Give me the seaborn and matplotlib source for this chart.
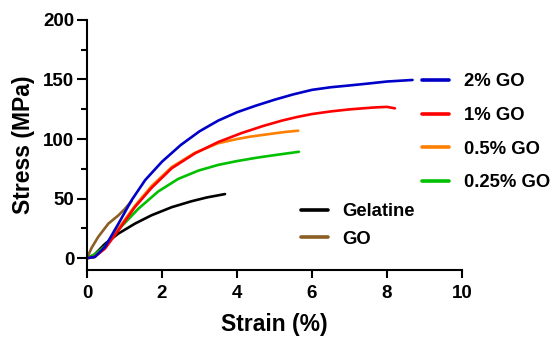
import numpy as np
import pandas as pd
import matplotlib
matplotlib.use("Agg")
import matplotlib.pyplot as plt
from matplotlib.lines import Line2D
from matplotlib.ticker import MultipleLocator
import seaborn as sns

# stress-strain curves (strain %, stress MPa)
strain_2go = [0, 0.21, 0.48, 0.84, 1.19, 1.55, 2.0, 2.5, 3.0, 3.5, 4.0, 4.5, 5.0, 5.5, 6.0, 6.5, 7.0, 7.5, 8.0, 8.68]
stress_2go = [0, 1, 9.5, 29, 48.7, 65.5, 81, 95, 106.5, 115.5, 122.5, 128, 133, 137.5, 141.3, 143.5, 145, 146.6, 148.3, 149.6]

strain_1go = [0, 0.2, 0.48, 0.84, 1.28, 1.72, 2.26, 2.88, 3.5, 4.12, 4.7, 5.2, 5.6, 6.0, 6.5, 7.0, 7.4, 7.7, 8.0, 8.21]
stress_1go = [0, 1, 8, 23.5, 43, 59, 75.5, 88, 97.5, 105, 111, 115.5, 118.5, 121, 123.2, 124.9, 125.9, 126.6, 127, 125.8]

strain_05go = [0, 0.2, 0.48, 0.84, 1.28, 1.72, 2.26, 2.88, 3.5, 4.0, 4.35, 4.7, 5.0, 5.3, 5.63]
stress_05go = [0, 1, 9, 25, 44, 60.5, 76.5, 88.5, 96.5, 100, 102, 103.5, 104.8, 106, 107]

strain_025go = [0, 0.2, 0.48, 0.84, 1.37, 1.9, 2.43, 2.97, 3.5, 4.0, 4.5, 5.0, 5.65]
stress_025go = [0, 3, 10, 24, 41.5, 56, 66.5, 73.5, 78.3, 81.5, 84.2, 86.5, 89.3]

strain_gel = [0, 0.2, 0.48, 0.84, 1.28, 1.72, 2.26, 2.79, 3.2, 3.68]
stress_gel = [0, 3, 12, 20.7, 29, 36, 42.8, 47.8, 51, 53.8]

strain_go = [0, 0.12, 0.3, 0.57, 0.84, 1.0, 1.19]
stress_go = [0, 8.5, 17.9, 29, 36, 41, 48]

series = {
    "Gelatine": (strain_gel, stress_gel),
    "GO": (strain_go, stress_go),
    "0.25% GO": (strain_025go, stress_025go),
    "0.5% GO": (strain_05go, stress_05go),
    "1% GO": (strain_1go, stress_1go),
    "2% GO": (strain_2go, stress_2go),
}
colors = {
    "2% GO": "#0000c8",
    "1% GO": "#ff0000",
    "0.5% GO": "#ff8000",
    "0.25% GO": "#00c000",
    "Gelatine": "#000000",
    "GO": "#8b5e24",
}

rows = []
for name, (xs, ys) in series.items():
    for x, y in zip(xs, ys):
        rows.append({"sample": name, "strain": x, "stress": y})
df = pd.DataFrame(rows)

sns.set_style("ticks")
plt.rcParams["font.family"] = ["Liberation Sans", "DejaVu Sans"]
plt.rcParams["font.weight"] = "bold"
plt.rcParams["text.color"] = "black"
plt.rcParams["axes.labelcolor"] = "black"
plt.rcParams["xtick.color"] = "black"
plt.rcParams["ytick.color"] = "black"
plt.rcParams["axes.edgecolor"] = "black"

fig = plt.figure(figsize=(5.52, 3.38), dpi=100)
ax = fig.add_axes([0.1576, 0.201, 0.6794, 0.740])

sns.lineplot(data=df, x="strain", y="stress", hue="sample", palette=colors,
             sort=False, estimator=None, legend=False, linewidth=1.9, ax=ax)
for ln in ax.get_lines():
    ln.set_solid_joinstyle("round")
    ln.set_solid_capstyle("round")

ax.set_xlim(0, 10)
ax.set_ylim(-10, 200)
ax.set_xticks([0, 2, 4, 6, 8, 10])
ax.set_yticks([0, 50, 100, 150, 200])
ax.yaxis.set_minor_locator(MultipleLocator(25))
ax.spines["top"].set_visible(False)
ax.spines["right"].set_visible(False)
for s in ["left", "bottom"]:
    ax.spines[s].set_linewidth(1.5)
ax.tick_params(axis="x", which="major", length=6, width=1.5, labelsize=13.5, pad=5)
ax.tick_params(axis="y", which="major", length=7, width=1.5, labelsize=13.5, pad=2)
ax.tick_params(axis="y", which="minor", length=4.5, width=1.5)
ax.set_xlabel("Strain (%)", fontsize=16.5, fontweight="bold", labelpad=8)
ax.set_ylabel("Stress (MPa)", fontsize=16.5, fontweight="bold", labelpad=6)
for lab in ax.get_xticklabels() + ax.get_yticklabels():
    lab.set_fontweight("bold")

right_names = ["2% GO", "1% GO", "0.5% GO", "0.25% GO"]
h1 = [Line2D([], [], color=colors[n], lw=2.6) for n in right_names]
leg1 = fig.legend(h1, right_names, loc="upper left", bbox_to_anchor=(0.765, 0.783),
                  frameon=False, handlelength=1.45, handletextpad=0.8,
                  labelspacing=0.9, borderpad=0, borderaxespad=0,
                  prop={"weight": "bold", "size": 13.3})

left_names = ["Gelatine", "GO"]
h2 = [Line2D([], [], color=colors[n], lw=2.6) for n in left_names]
leg2 = fig.legend(h2, left_names, loc="upper left", bbox_to_anchor=(0.545, 0.398),
                  frameon=False, handlelength=1.45, handletextpad=0.8,
                  labelspacing=0.55, borderpad=0, borderaxespad=0,
                  prop={"weight": "bold", "size": 13.3})

fig.savefig("out.png", dpi=100)
